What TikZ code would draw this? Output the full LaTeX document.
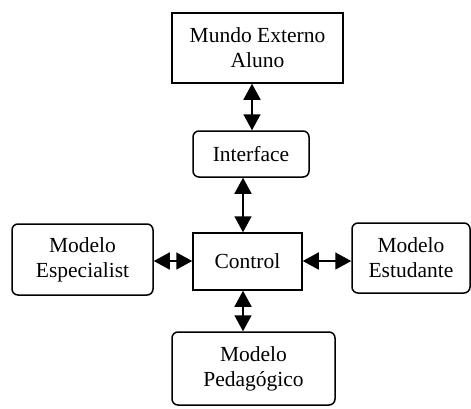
\documentclass[tikz,border=0pt]{standalone}
\usepackage{fontspec}
\setmainfont{Liberation Serif}
\usetikzlibrary{arrows.meta}
\begin{document}
\begin{tikzpicture}[x=1pt,y=-1pt,
  box/.style={draw,line width=1.5pt,align=center,inner sep=0pt,
    font=\fontsize{21.5}{25}\selectfont},
  rbox/.style={box,rounded corners=6pt},
  arr/.style={line width=1.6pt,{Triangle[length=16pt,width=17pt]}-{Triangle[length=16pt,width=17pt]}}]
\useasboundingbox (0,0) rectangle (471,408);
\node[box,minimum width=171pt,minimum height=70pt] (mundo) at (257.5,48) {Mundo Externo\\Aluno};
\node[rbox,minimum width=116pt,minimum height=46pt] (iface) at (251,154) {Interface};
\node[box,minimum width=109pt,minimum height=57pt] (ctrl) at (247.5,261.5) {Control};
\node[rbox,minimum width=141pt,minimum height=71pt] (esp) at (82.5,259.5) {Modelo\\Especialist};
\node[rbox,minimum width=118pt,minimum height=70pt] (est) at (411,258) {Modelo\\Estudante};
\node[rbox,minimum width=163pt,minimum height=73pt] (ped) at (253.5,368.5) {Modelo\\Pedagógico};
\coordinate (a1) at (252,0);
\coordinate (a2) at (243,0);
\coordinate (h) at (0,261);
\draw[arr] (mundo.south -| a1) -- (iface.north -| a1);
\draw[arr] (iface.south -| a2) -- (ctrl.north -| a2);
\draw[arr] (ctrl.south -| a2) -- (ped.north -| a2);
\draw[arr] (esp.east |- h) -- (ctrl.west |- h);
\draw[arr] (ctrl.east |- h) -- (est.west |- h);
\end{tikzpicture}
\end{document}
